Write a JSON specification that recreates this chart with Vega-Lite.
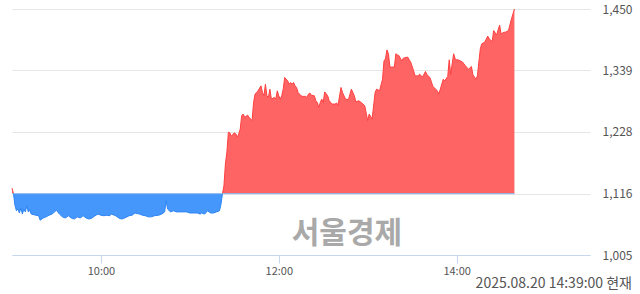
{
  "$schema": "https://vega.github.io/schema/vega-lite/v6.json",
  "width": 578,
  "height": 246,
  "padding": {"left": 10, "top": 3, "right": 10, "bottom": 0},
  "autosize": {"type": "pad"},
  "config": {"view": {"stroke": null}, "font": "Noto Sans CJK KR"},
  "title": {"text": "2025.08.20 14:39:00 현재", "orient": "bottom", "anchor": "end", "frame": "bounds", "fontSize": 14, "fontWeight": "normal", "color": "#555555", "offset": 1},
  "layer": [
    {
      "data": {
        "format": {"parse": {"t": "date:'%H:%M'"}},
        "values": [
          {"t": "09:00", "v": 1126, "s": "u0"}, {"t": "09:01", "v": 1116, "s": "u0"},
          {"t": "09:01", "v": 1116, "s": "d"}, {"t": "09:02", "v": 1095, "s": "d"}, {"t": "09:03", "v": 1085, "s": "d"}, {"t": "09:04", "v": 1088, "s": "d"}, {"t": "09:05", "v": 1081, "s": "d"}, {"t": "09:06", "v": 1090, "s": "d"}, {"t": "09:07", "v": 1079, "s": "d"}, {"t": "09:08", "v": 1088, "s": "d"}, {"t": "09:09", "v": 1083, "s": "d"}, {"t": "09:10", "v": 1094, "s": "d"}, {"t": "09:11", "v": 1083, "s": "d"}, {"t": "09:12", "v": 1086, "s": "d"}, {"t": "09:13", "v": 1079, "s": "d"}, {"t": "09:16", "v": 1077, "s": "d"}, {"t": "09:18", "v": 1076, "s": "d"}, {"t": "09:19", "v": 1068, "s": "d"}, {"t": "09:21", "v": 1072, "s": "d"}, {"t": "09:23", "v": 1074, "s": "d"}, {"t": "09:25", "v": 1077, "s": "d"}, {"t": "09:27", "v": 1079, "s": "d"}, {"t": "09:30", "v": 1086, "s": "d"}, {"t": "09:32", "v": 1079, "s": "d"}, {"t": "09:34", "v": 1074, "s": "d"}, {"t": "09:36", "v": 1072, "s": "d"}, {"t": "09:38", "v": 1076, "s": "d"}, {"t": "09:40", "v": 1072, "s": "d"}, {"t": "09:42", "v": 1070, "s": "d"}, {"t": "09:44", "v": 1074, "s": "d"}, {"t": "09:46", "v": 1072, "s": "d"}, {"t": "09:48", "v": 1076, "s": "d"}, {"t": "09:50", "v": 1072, "s": "d"}, {"t": "09:52", "v": 1070, "s": "d"}, {"t": "09:54", "v": 1072, "s": "d"}, {"t": "09:56", "v": 1076, "s": "d"}, {"t": "09:58", "v": 1079, "s": "d"}, {"t": "10:00", "v": 1077, "s": "d"}, {"t": "10:02", "v": 1076, "s": "d"}, {"t": "10:04", "v": 1077, "s": "d"}, {"t": "10:06", "v": 1076, "s": "d"}, {"t": "10:07", "v": 1079, "s": "d"}, {"t": "10:10", "v": 1076, "s": "d"}, {"t": "10:12", "v": 1072, "s": "d"}, {"t": "10:14", "v": 1070, "s": "d"}, {"t": "10:16", "v": 1072, "s": "d"}, {"t": "10:19", "v": 1076, "s": "d"}, {"t": "10:21", "v": 1077, "s": "d"}, {"t": "10:23", "v": 1081, "s": "d"}, {"t": "10:26", "v": 1079, "s": "d"}, {"t": "10:28", "v": 1077, "s": "d"}, {"t": "10:30", "v": 1076, "s": "d"}, {"t": "10:32", "v": 1074, "s": "d"}, {"t": "10:34", "v": 1074, "s": "d"}, {"t": "10:36", "v": 1076, "s": "d"}, {"t": "10:39", "v": 1077, "s": "d"}, {"t": "10:41", "v": 1079, "s": "d"}, {"t": "10:43", "v": 1083, "s": "d"}, {"t": "10:44", "v": 1103, "s": "d"}, {"t": "10:45", "v": 1088, "s": "d"}, {"t": "10:47", "v": 1083, "s": "d"}, {"t": "10:49", "v": 1085, "s": "d"}, {"t": "10:51", "v": 1083, "s": "d"}, {"t": "10:53", "v": 1083, "s": "d"}, {"t": "10:56", "v": 1083, "s": "d"}, {"t": "10:58", "v": 1083, "s": "d"}, {"t": "11:00", "v": 1081, "s": "d"}, {"t": "11:03", "v": 1081, "s": "d"}, {"t": "11:05", "v": 1081, "s": "d"}, {"t": "11:07", "v": 1079, "s": "d"}, {"t": "11:08", "v": 1081, "s": "d"}, {"t": "11:10", "v": 1079, "s": "d"}, {"t": "11:12", "v": 1085, "s": "d"}, {"t": "11:14", "v": 1081, "s": "d"}, {"t": "11:16", "v": 1081, "s": "d"}, {"t": "11:18", "v": 1083, "s": "d"}, {"t": "11:20", "v": 1085, "s": "d"}, {"t": "11:21", "v": 1097, "s": "d"}, {"t": "11:22", "v": 1116, "s": "d"},
          {"t": "11:22", "v": 1116, "s": "u"}, {"t": "11:23", "v": 1130, "s": "u"}, {"t": "11:24", "v": 1170, "s": "u"}, {"t": "11:25", "v": 1191, "s": "u"}, {"t": "11:26", "v": 1227, "s": "u"}, {"t": "11:27", "v": 1226, "s": "u"}, {"t": "11:28", "v": 1220, "s": "u"}, {"t": "11:30", "v": 1226, "s": "u"}, {"t": "11:31", "v": 1224, "s": "u"}, {"t": "11:32", "v": 1218, "s": "u"}, {"t": "11:33", "v": 1224, "s": "u"}, {"t": "11:34", "v": 1233, "s": "u"}, {"t": "11:35", "v": 1257, "s": "u"}, {"t": "11:36", "v": 1260, "s": "u"}, {"t": "11:37", "v": 1254, "s": "u"}, {"t": "11:39", "v": 1258, "s": "u"}, {"t": "11:40", "v": 1254, "s": "u"}, {"t": "11:41", "v": 1251, "s": "u"}, {"t": "11:42", "v": 1248, "s": "u"}, {"t": "11:43", "v": 1281, "s": "u"}, {"t": "11:44", "v": 1296, "s": "u"}, {"t": "11:45", "v": 1299, "s": "u"}, {"t": "11:46", "v": 1302, "s": "u"}, {"t": "11:48", "v": 1311, "s": "u"}, {"t": "11:49", "v": 1299, "s": "u"}, {"t": "11:50", "v": 1293, "s": "u"}, {"t": "11:51", "v": 1314, "s": "u"}, {"t": "11:52", "v": 1293, "s": "u"}, {"t": "11:53", "v": 1290, "s": "u"}, {"t": "11:54", "v": 1305, "s": "u"}, {"t": "11:55", "v": 1287, "s": "u"}, {"t": "11:57", "v": 1290, "s": "u"}, {"t": "11:58", "v": 1287, "s": "u"}, {"t": "11:59", "v": 1302, "s": "u"}, {"t": "12:00", "v": 1293, "s": "u"}, {"t": "12:01", "v": 1287, "s": "u"}, {"t": "12:02", "v": 1293, "s": "u"}, {"t": "12:03", "v": 1305, "s": "u"}, {"t": "12:04", "v": 1326, "s": "u"}, {"t": "12:06", "v": 1320, "s": "u"}, {"t": "12:07", "v": 1314, "s": "u"}, {"t": "12:08", "v": 1317, "s": "u"}, {"t": "12:09", "v": 1314, "s": "u"}, {"t": "12:10", "v": 1317, "s": "u"}, {"t": "12:11", "v": 1311, "s": "u"}, {"t": "12:12", "v": 1308, "s": "u"}, {"t": "12:13", "v": 1299, "s": "u"}, {"t": "12:15", "v": 1293, "s": "u"}, {"t": "12:16", "v": 1292, "s": "u"}, {"t": "12:18", "v": 1292, "s": "u"}, {"t": "12:19", "v": 1290, "s": "u"}, {"t": "12:20", "v": 1296, "s": "u"}, {"t": "12:21", "v": 1298, "s": "u"}, {"t": "12:22", "v": 1294, "s": "u"}, {"t": "12:24", "v": 1293, "s": "u"}, {"t": "12:25", "v": 1284, "s": "u"}, {"t": "12:26", "v": 1281, "s": "u"}, {"t": "12:27", "v": 1272, "s": "u"}, {"t": "12:28", "v": 1281, "s": "u"}, {"t": "12:29", "v": 1287, "s": "u"}, {"t": "12:30", "v": 1281, "s": "u"}, {"t": "12:31", "v": 1300, "s": "u"}, {"t": "12:33", "v": 1293, "s": "u"}, {"t": "12:34", "v": 1284, "s": "u"}, {"t": "12:36", "v": 1278, "s": "u"}, {"t": "12:38", "v": 1278, "s": "u"}, {"t": "12:39", "v": 1280, "s": "u"}, {"t": "12:40", "v": 1276, "s": "u"}, {"t": "12:42", "v": 1308, "s": "u"}, {"t": "12:43", "v": 1299, "s": "u"}, {"t": "12:45", "v": 1287, "s": "u"}, {"t": "12:47", "v": 1286, "s": "u"}, {"t": "12:49", "v": 1305, "s": "u"}, {"t": "12:51", "v": 1293, "s": "u"}, {"t": "12:52", "v": 1282, "s": "u"}, {"t": "12:54", "v": 1284, "s": "u"}, {"t": "12:56", "v": 1280, "s": "u"}, {"t": "12:58", "v": 1275, "s": "u"}, {"t": "13:00", "v": 1248, "s": "u"}, {"t": "13:01", "v": 1260, "s": "u"}, {"t": "13:03", "v": 1251, "s": "u"}, {"t": "13:05", "v": 1299, "s": "u"}, {"t": "13:06", "v": 1305, "s": "u"}, {"t": "13:08", "v": 1302, "s": "u"}, {"t": "13:10", "v": 1323, "s": "u"}, {"t": "13:11", "v": 1356, "s": "u"}, {"t": "13:12", "v": 1360, "s": "u"}, {"t": "13:13", "v": 1376, "s": "u"}, {"t": "13:14", "v": 1369, "s": "u"}, {"t": "13:15", "v": 1345, "s": "u"}, {"t": "13:16", "v": 1345, "s": "u"}, {"t": "13:18", "v": 1345, "s": "u"}, {"t": "13:19", "v": 1369, "s": "u"}, {"t": "13:20", "v": 1367, "s": "u"}, {"t": "13:21", "v": 1366, "s": "u"}, {"t": "13:23", "v": 1356, "s": "u"}, {"t": "13:24", "v": 1361, "s": "u"}, {"t": "13:27", "v": 1363, "s": "u"}, {"t": "13:28", "v": 1358, "s": "u"}, {"t": "13:29", "v": 1354, "s": "u"}, {"t": "13:31", "v": 1338, "s": "u"}, {"t": "13:32", "v": 1329, "s": "u"}, {"t": "13:34", "v": 1329, "s": "u"}, {"t": "13:35", "v": 1332, "s": "u"}, {"t": "13:37", "v": 1327, "s": "u"}, {"t": "13:39", "v": 1337, "s": "u"}, {"t": "13:40", "v": 1331, "s": "u"}, {"t": "13:42", "v": 1326, "s": "u"}, {"t": "13:44", "v": 1310, "s": "u"}, {"t": "13:47", "v": 1302, "s": "u"}, {"t": "13:48", "v": 1296, "s": "u"}, {"t": "13:49", "v": 1305, "s": "u"}, {"t": "13:51", "v": 1323, "s": "u"}, {"t": "13:52", "v": 1320, "s": "u"}, {"t": "13:54", "v": 1328, "s": "u"}, {"t": "13:55", "v": 1358, "s": "u"}, {"t": "13:56", "v": 1332, "s": "u"}, {"t": "13:58", "v": 1369, "s": "u"}, {"t": "13:59", "v": 1360, "s": "u"}, {"t": "14:00", "v": 1358, "s": "u"}, {"t": "14:01", "v": 1358, "s": "u"}, {"t": "14:04", "v": 1354, "s": "u"}, {"t": "14:06", "v": 1347, "s": "u"}, {"t": "14:08", "v": 1341, "s": "u"}, {"t": "14:10", "v": 1346, "s": "u"}, {"t": "14:11", "v": 1331, "s": "u"}, {"t": "14:13", "v": 1323, "s": "u"}, {"t": "14:14", "v": 1329, "s": "u"}, {"t": "14:16", "v": 1378, "s": "u"}, {"t": "14:17", "v": 1387, "s": "u"}, {"t": "14:19", "v": 1390, "s": "u"}, {"t": "14:21", "v": 1401, "s": "u"}, {"t": "14:22", "v": 1396, "s": "u"}, {"t": "14:24", "v": 1391, "s": "u"}, {"t": "14:25", "v": 1411, "s": "u"}, {"t": "14:27", "v": 1403, "s": "u"}, {"t": "14:29", "v": 1421, "s": "u"}, {"t": "14:30", "v": 1405, "s": "u"}, {"t": "14:32", "v": 1408, "s": "u"}, {"t": "14:33", "v": 1408, "s": "u"}, {"t": "14:35", "v": 1411, "s": "u"}, {"t": "14:37", "v": 1432, "s": "u"}, {"t": "14:39", "v": 1450, "s": "u"}
        ]
      },
      "layer": [
        {
          "mark": {"type": "area", "opacity": 1, "interpolate": "linear"},
          "encoding": {
            "x": {
              "field": "t", "type": "temporal",
              "scale": {"domain": [{"year": 1900, "month": 1, "date": 1, "hours": 9, "minutes": 0}, {"year": 1900, "month": 1, "date": 1, "hours": 15, "minutes": 30}]},
              "axis": {
                "values": [{"year": 1900, "month": 1, "date": 1, "hours": 10}, {"year": 1900, "month": 1, "date": 1, "hours": 12}, {"year": 1900, "month": 1, "date": 1, "hours": 14}],
                "format": "%H:%M", "grid": false, "title": null,
                "domainColor": "#c5d6ee", "tickColor": "#c5d6ee", "tickSize": 8,
                "labelColor": "#555555", "labelFontSize": 11, "labelPadding": 2
              }
            },
            "y": {
              "field": "v", "type": "quantitative",
              "scale": {"domain": [1005, 1450], "zero": false, "nice": false},
              "axis": {
                "orient": "right", "values": [1005, 1116, 1228, 1339, 1450], "format": ",d",
                "grid": true, "gridColor": "#e6e6e6", "domain": false, "ticks": false, "title": null,
                "labelAlign": "right", "labelPadding": 42, "labelColor": "#555555", "labelFontSize": 12
              }
            },
            "y2": {"datum": 1116},
            "fill": {"field": "s", "type": "nominal", "scale": {"domain": ["u0", "u", "d"], "range": ["#ff6464", "#ff6464", "#4697fb"]}, "legend": null}
          }
        },
        {
          "mark": {"type": "line", "strokeWidth": 1, "interpolate": "linear"},
          "encoding": {
            "x": {"field": "t", "type": "temporal"},
            "y": {"field": "v", "type": "quantitative"},
            "stroke": {"field": "s", "type": "nominal", "scale": {"domain": ["u0", "u", "d"], "range": ["#ff4040", "#ff4040", "#2d84f4"]}, "legend": null}
          }
        }
      ]
    },
    {
      "data": {"values": [{}]},
      "mark": {"type": "rule", "color": "#8cb6ea", "strokeWidth": 1},
      "encoding": {
        "x": {"datum": {"year": 1900, "month": 1, "date": 1, "hours": 9, "minutes": 0}, "type": "temporal"},
        "x2": {"datum": {"year": 1900, "month": 1, "date": 1, "hours": 14, "minutes": 39}},
        "y": {"datum": 1116, "type": "quantitative"}
      }
    },
    {
      "data": {"values": [{}]},
      "mark": {"type": "text", "fontSize": 30, "fontWeight": "bold", "color": "#a9a9a9", "align": "center", "baseline": "middle"},
      "encoding": {
        "x": {"datum": {"year": 1900, "month": 1, "date": 1, "hours": 12, "minutes": 46}, "type": "temporal"},
        "y": {"datum": 1043, "type": "quantitative"},
        "text": {"value": "서울경제"}
      }
    }
  ]
}
